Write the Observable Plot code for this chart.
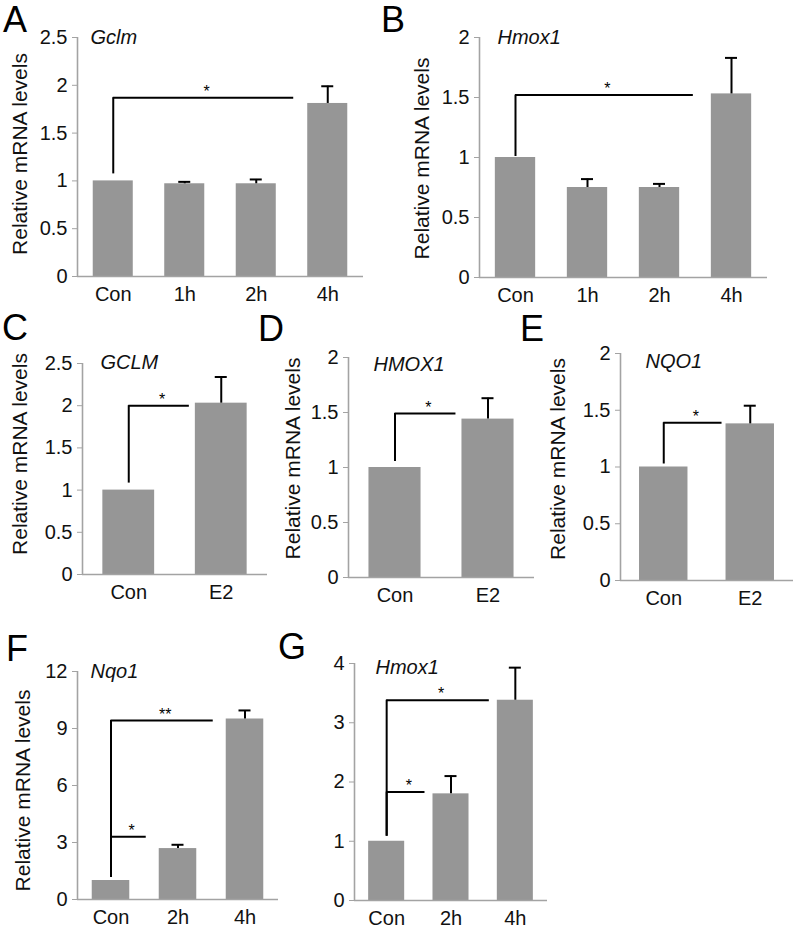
<!DOCTYPE html>
<html><head><meta charset="utf-8">
<script src="https://cdn.jsdelivr.net/npm/d3@7"></script>
<script src="https://cdn.jsdelivr.net/npm/@observablehq/plot@0.6"></script>
<style>
html,body{margin:0;padding:0;background:#fff;overflow:hidden}
#fig{position:relative;width:793px;height:933px;overflow:hidden;font-family:"Liberation Sans",Arial,sans-serif;background:#fff}
#fig svg{position:absolute}
.letter{position:absolute;font-size:36px;line-height:36px;color:#000;font-family:"Liberation Sans",Arial,sans-serif}
</style></head><body><div id="fig"></div>
<script>
// ---------- DATA ----------
const yLabel = "Relative mRNA levels";

const genesA = "Gclm";
const catsA = ["Con", "1h", "2h", "4h"];
const valsA = [1.0, 0.97, 0.97, 1.81];
const errsA = [0, 0.02, 0.045, 0.18];
const ticksA = [0, 0.5, 1, 1.5, 2, 2.5];
const sigA = [{from: "Con", to: "4h", level: 1.87, mark: "*"}];

const genesB = "Hmox1";
const catsB = ["Con", "1h", "2h", "4h"];
const valsB = [1.0, 0.75, 0.75, 1.53];
const errsB = [0, 0.07, 0.03, 0.30];
const ticksB = [0, 0.5, 1, 1.5, 2];
const sigB = [{from: "Con", to: "4h", level: 1.52, mark: "*"}];

const genesC = "GCLM";
const catsC = ["Con", "E2"];
const valsC = [1.0, 2.03];
const errsC = [0, 0.31];
const ticksC = [0, 0.5, 1, 1.5, 2, 2.5];
const sigC = [{from: "Con", to: "E2", level: 2.0, mark: "*"}];

const genesD = "HMOX1";
const catsD = ["Con", "E2"];
const valsD = [1.0, 1.44];
const errsD = [0, 0.19];
const ticksD = [0, 0.5, 1, 1.5, 2];
const sigD = [{from: "Con", to: "E2", level: 1.49, mark: "*"}];

const genesE = "NQO1";
const catsE = ["Con", "E2"];
const valsE = [1.0, 1.38];
const errsE = [0, 0.16];
const ticksE = [0, 0.5, 1, 1.5, 2];
const sigE = [{from: "Con", to: "E2", level: 1.39, mark: "*"}];

const genesF = "Nqo1";
const catsF = ["Con", "2h", "4h"];
const valsF = [1.0, 2.68, 9.5];
const errsF = [0, 0.2, 0.45];
const ticksF = [0, 3, 6, 9, 12];
const sigF = [{from: "Con", to: "2h", level: 3.3, mark: "*"},
              {from: "Con", to: "4h", level: 9.42, mark: "**"}];

const genesG = "Hmox1";
const catsG = ["Con", "2h", "4h"];
const valsG = [1.0, 1.8, 3.38];
const errsG = [0, 0.3, 0.55];
const ticksG = [0, 1, 2, 3, 4];
const sigG = [{from: "Con", to: "2h", level: 1.83, mark: "*"},
              {from: "Con", to: "4h", level: 3.38, mark: "*"}];

// ---------- LAYOUT (pixels) ----------
const panels = [
  {letter: "A", gene: genesA, cats: catsA, vals: valsA, errs: errsA, ticks: ticksA, sig: sigA, ylab: true,
   xL: 77, xR: 363, yT: 37, y0: 276, let: [3, 32], gd: [13, 6], yl: [-57, -3], gap: 14, stem: 7},
  {letter: "B", gene: genesB, cats: catsB, vals: valsB, errs: errsB, ticks: ticksB, sig: sigB, ylab: true,
   xL: 479, xR: 767, yT: 37, y0: 277, let: [381, 32], gd: [18, 6], yl: [-57, 1], gap: 18, stem: 1},
  {letter: "C", gene: genesC, cats: catsC, vals: valsC, errs: errsC, ticks: ticksC, sig: sigC, ylab: true,
   xL: 82, xR: 267, yT: 363, y0: 574, let: [2, 340], gd: [18, 5], yl: [-62, -15], gap: 6, stem: 7},
  {letter: "D", gene: genesD, cats: catsD, vals: valsD, errs: errsD, ticks: ticksD, sig: sigD, ylab: true,
   xL: 348, xR: 534, yT: 357, y0: 577, let: [258, 341], gd: [25, 13], yl: [-55, -9], gap: 6, stem: 6},
  {letter: "E", gene: genesE, cats: catsE, vals: valsE, errs: errsE, ticks: ticksE, sig: sigE, ylab: true,
   xL: 620, xR: 793, yT: 353, y0: 580, let: [520, 341], gd: [25, 14], yl: [-62, -8], gap: 4, stem: 3},
  {letter: "F", gene: genesF, cats: catsF, vals: valsF, errs: errsF, ticks: ticksF, sig: sigF, ylab: true,
   xL: 77, xR: 278, yT: 671, y0: 899, let: [6, 661], gd: [13, 6], yl: [-54, 5], gap: 13, stem: 3},
  {letter: "G", gene: genesG, cats: catsG, vals: valsG, errs: errsG, ticks: ticksG, sig: sigG, ylab: false,
   xL: 354, xR: 547, yT: 663, y0: 900, let: [278, 659], gd: [21, 10], yl: [0, 0], gap: 8, stem: 5}
];

const FONT = '"Liberation Sans", Arial, sans-serif';
const axisGray = "#a3a3a3";
const barGray = "#969696";
const mL = 80, mR = 14, mT = 45, mB = 42;
const hw = 0.28; // half bar width, in category steps

const fig = document.getElementById("fig");

for (const p of panels) {
  const n = p.cats.length;
  const W = p.xR - p.xL, H = p.y0 - p.yT;
  const step = W / n;
  const ymax = p.ticks[p.ticks.length - 1];
  const rows = p.cats.map((c, i) => ({i, c, v: p.vals[i], e: p.errs[i]}));
  const withErr = rows.filter(d => d.e > 0);
  const idx = c => p.cats.indexOf(c);
  const capHalf = 6 / step;
  const br = p.sig.map(s => ({
    x1: idx(s.from),
    x2: idx(s.to) - hw - p.gap / step,
    y: s.level,
    base: p.vals[idx(s.from)],
    mark: s.mark
  }));

  const marks = [
    Plot.rect(rows, {x1: d => d.i - hw, x2: d => d.i + hw, y1: 0, y2: "v", fill: barGray}),
    Plot.ruleX(withErr, {x: "i", y1: d => d.v + d.e, y2: "v", stroke: "#000", strokeWidth: 2}),
    Plot.ruleY(withErr, {x1: d => d.i - capHalf, x2: d => d.i + capHalf, y: d => d.v + d.e, stroke: "#000", strokeWidth: 2}),
    Plot.ruleX(br, {x: "x1", y1: "y", y2: "base", insetBottom: p.stem, stroke: "#000", strokeWidth: 2}),
    Plot.ruleY(br, {x1: "x1", x2: "x2", y: "y", stroke: "#000", strokeWidth: 2}),
    Plot.text(br, {x: d => (d.x1 + d.x2) / 2, y: "y", text: "mark", lineAnchor: "bottom", dx: 3, dy: -1, fontSize: 16, fill: "#000"}),
    Plot.ruleX([-0.5], {y1: 0, y2: ymax, stroke: axisGray, strokeWidth: 1.6}),
    Plot.ruleY([0], {stroke: axisGray, strokeWidth: 1.6}),
    Plot.axisY({ticks: p.ticks, tickFormat: d => String(d), tickSize: 5, tickPadding: 5, stroke: axisGray, fill: "#111", fontSize: 20, label: null}),
    Plot.axisX({ticks: d3.range(n), tickFormat: i => p.cats[i], tickSize: 0, tickPadding: 10, fill: "#111", fontSize: 20, label: null}),
    Plot.text([p.gene], {frameAnchor: "top-left", dx: p.gd[0], dy: p.gd[1], lineAnchor: "bottom", textAnchor: "start", fontStyle: "italic", fontSize: 20, fill: "#111"})
  ];
  if (p.ylab) {
    marks.push(Plot.text([yLabel], {frameAnchor: "left", rotate: -90, dx: p.yl[0], dy: p.yl[1], textAnchor: "middle", lineAnchor: "middle", fontSize: 21, fill: "#111"}));
  }

  const svg = Plot.plot({
    width: W + mL + mR,
    height: H + mT + mB,
    marginLeft: mL, marginRight: mR, marginTop: mT, marginBottom: mB,
    style: {background: "transparent", fontFamily: FONT, overflow: "visible", maxWidth: "none"},
    x: {type: "linear", domain: [-0.5, n - 0.5], axis: null},
    y: {type: "linear", domain: [0, ymax], axis: null},
    marks
  });
  svg.style.left = (p.xL - mL) + "px";
  svg.style.top = (p.yT - mT) + "px";
  fig.appendChild(svg);

  const lt = document.createElement("div");
  lt.className = "letter";
  lt.textContent = p.letter;
  lt.style.left = p.let[0] + "px";
  lt.style.top = (p.let[1] - 30.5) + "px";
  fig.appendChild(lt);
}
</script>
</body></html>
